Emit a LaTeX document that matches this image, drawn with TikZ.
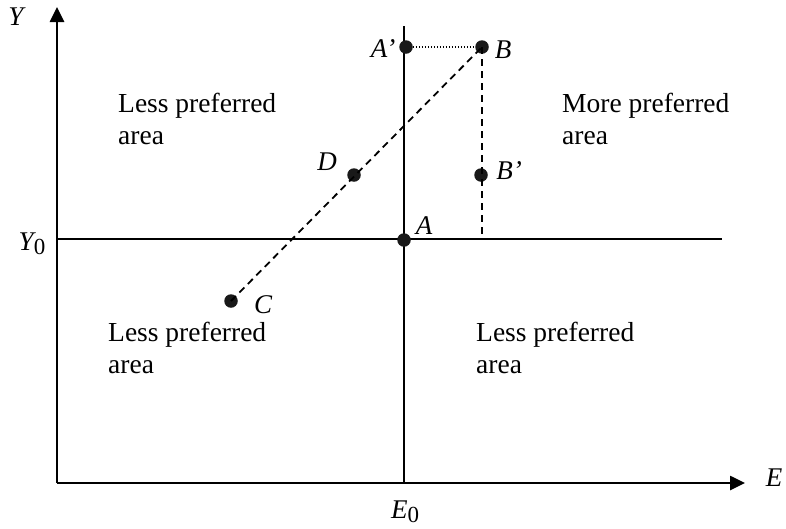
\documentclass[tikz,border=0pt]{standalone}
\usepackage{fontspec}
\setmainfont{Liberation Serif}
\usetikzlibrary{arrows.meta}
\newcommand{\subz}[1]{\textit{#1}\raisebox{-0.35ex}{\upshape\fontsize{23}{23}\selectfont 0}}
\begin{document}
\begin{tikzpicture}[x=1pt,y=-1pt,
  axis/.style={line width=2.6pt,-{Triangle[length=15pt,width=14pt]}},
  solidline/.style={line width=2.6pt},
  dashline/.style={line width=1.8pt,dash pattern=on 7pt off 5pt},
  dotline/.style={line width=1.6pt,dash pattern=on 1.5pt off 1.5pt},
  pt/.style={circle,fill=black!90,inner sep=0pt,minimum size=13.5pt},
  lbl/.style={font=\fontsize{27}{27}\selectfont\itshape,inner sep=0pt},
  area/.style={font=\fontsize{27.5}{32}\selectfont,align=left,inner sep=0pt,anchor=north west}]
\useasboundingbox (0,0) rectangle (786,528);
\coordinate (O) at (57,483);
\coordinate (Ytip) at (57,7);
\coordinate (Etip) at (745,483);
\coordinate (Yl) at (57,239);
\coordinate (Yr) at (722,239);
\coordinate (Eb) at (404,483);
\coordinate (Et) at (404,26);
\coordinate (Bfoot) at (482,239);
\draw[axis] (O) -- (Ytip);
\draw[axis] (O) -- (Etip);
\draw[solidline] (Yl) -- (Yr);
\draw[solidline] (Eb) -- (Et);
\node[pt] (A) at (404,240) {};
\node[pt] (Ap) at (406,47) {};
\node[pt] (B) at (482,47) {};
\node[pt] (Bp) at (481,175) {};
\node[pt] (D) at (354,175) {};
\node[pt] (C) at (231,301) {};
\draw[dotline] (Ap) -- (B);
\draw[dashline] (C.center) -- (B.center);
\draw[dashline] (B.center) -- (Bfoot);
\node[lbl] (lY) at (16,17) {Y};
\node[lbl] (lE) at (774,478) {E};
\node[lbl] (lY0) at (32,244) {\subz{Y}};
\node[lbl] (lE0) at (405,512) {\subz{E}};
\node[lbl] (lA) at (424,226) {A};
\node[lbl] (lAp) at (383,49) {A’};
\node[lbl] (lB) at (503,50) {B};
\node[lbl] (lBp) at (509,171) {B’};
\node[lbl] (lD) at (327,162) {D};
\node[lbl] (lC) at (263,305) {C};
\node[area] (t1) at (118,93) {Less preferred\\area};
\node[area] (t2) at (562,93) {More preferred\\area};
\node[area] (t3) at (108,322) {Less preferred\\area};
\node[area] (t4) at (476,322) {Less preferred\\area};
\end{tikzpicture}
\end{document}
